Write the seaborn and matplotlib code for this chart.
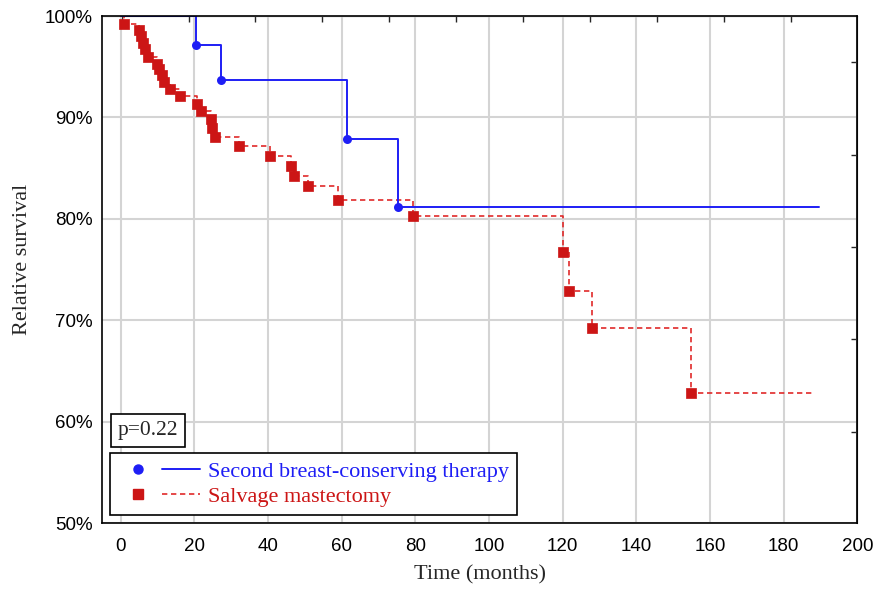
import matplotlib.pyplot as plt
import numpy as np
import pandas as pd
import seaborn as sns
from matplotlib.lines import Line2D
from matplotlib.legend_handler import HandlerTuple

# Kaplan-Meier estimates (months, % surviving)
bct_times = [20.5, 27.4, 61.4, 75.2]
bct_surv = [97.1, 93.7, 87.9, 81.2]
bct_last = 189.5  # end of follow-up

sm_times = [1.0, 5.0, 5.5, 6.2, 6.6, 7.4, 9.8, 10.3, 11.2, 11.8, 13.5, 16.2,
            20.7, 21.8, 24.5, 24.9, 25.6, 32.2, 40.5, 46.4, 47.0, 50.9, 58.9,
            79.5, 120.2, 121.8, 128.1, 154.9]
sm_surv = [99.2, 98.6, 98.0, 97.3, 96.7, 96.0, 95.3, 94.8, 94.2, 93.5, 92.8, 92.1,
           91.3, 90.6, 89.8, 89.0, 88.1, 87.2, 86.2, 85.2, 84.2, 83.2, 81.9,
           80.3, 76.7, 72.9, 69.2, 62.8]
sm_last = 188.5

group_labels = ['Second breast-conserving therapy', 'Salvage mastectomy']
p_text = 'p=0.22'

x_ticks = [0, 20, 40, 60, 80, 100, 120, 140, 160, 180, 200]
y_ticks = [50, 60, 70, 80, 90, 100]

blue = '#1e1ef5'
red_mark = '#cc1515'
red_line = '#e02a2a'

sns.set_style('white')
plt.rcParams['font.family'] = ['Liberation Sans', 'DejaVu Sans']


def step_frame(times, surv, last):
    # full step curve: start at 100% at t=0, hold the last value to end of follow-up
    return pd.DataFrame({'time': [0] + times + [last],
                         'surv': [100] + surv + [surv[-1]]})


bct_curve = step_frame(bct_times, bct_surv, bct_last)
sm_curve = step_frame(sm_times, sm_surv, sm_last)
bct_events = pd.DataFrame({'time': bct_times, 'surv': bct_surv})
sm_events = pd.DataFrame({'time': sm_times, 'surv': sm_surv})

fig = plt.figure(figsize=(8.73, 5.93), dpi=100)
ax = fig.add_axes([0.117, 0.118, 0.865, 0.855])

# survival curves
sns.lineplot(data=sm_curve, x='time', y='surv', drawstyle='steps-post',
             estimator=None, sort=False, color=red_line, lw=1.2, ax=ax)
ax.lines[-1].set_dashes([3.2, 2.2])
sns.lineplot(data=bct_curve, x='time', y='surv', drawstyle='steps-post',
             estimator=None, sort=False, color=blue, lw=1.4, ax=ax)

# event markers
sns.scatterplot(data=sm_events, x='time', y='surv', marker='s', s=50,
                color=red_mark, edgecolor=red_mark, linewidth=0.5, zorder=4, ax=ax)
sns.scatterplot(data=bct_events, x='time', y='surv', marker='o', s=42,
                color=blue, edgecolor=blue, linewidth=0, zorder=5, ax=ax)

ax.set_xlim(-5, 200)
ax.set_ylim(50, 100)
ax.set_xticks(x_ticks)
ax.set_yticks(y_ticks)
ax.set_yticklabels([f'{v}%' for v in y_ticks])
ax.tick_params(axis='both', direction='in', length=4, width=1, labelsize=13.5,
               colors='black', pad=7)
ax.tick_params(axis='x', pad=11)
ax.grid(True, color='#d4d4d4', lw=1.5)
ax.set_axisbelow(True)
for sp in ax.spines.values():
    sp.set_color('black')
    sp.set_linewidth(1.2)

# the extra tick marks on top and right edges of the original
top = ax.secondary_xaxis('top')
top.set_xticks([0.3, 18.5, 36.6, 54.8, 73.0, 91.1, 109.3, 127.5, 145.6, 163.8, 182.0])
top.tick_params(direction='in', length=4, width=1, labeltop=False)
right = ax.secondary_yaxis('right')
right.set_yticks([59.0, 68.1, 77.2, 86.3, 95.5])
right.tick_params(direction='in', length=4, width=1, labelright=False)

serif = ['Liberation Serif', 'DejaVu Serif']
ax.set_xlabel('Time (months)', family=serif, fontsize=16)
ax.set_ylabel('Relative survival', family=serif, fontsize=16)
ax.xaxis.set_label_coords(0.5, -0.084)
ax.yaxis.set_label_coords(-0.093, 0.52)

# p-value box
ax.text(0.021, 0.163, p_text, transform=ax.transAxes, ha='left', va='bottom',
        family=serif, fontsize=15.5, zorder=6,
        bbox=dict(boxstyle='square,pad=0.32', fc='white', ec='black', lw=1.2))

# legend: marker, then line sample, then coloured label
h_bct = (Line2D([], [], marker='o', ls='none', color=blue, markersize=6.5),
         Line2D([], [], color=blue, lw=1.4))
h_sm = (Line2D([], [], marker='s', ls='none', color=red_mark, markersize=6.5),
        Line2D([], [], color=red_line, lw=1.2, dashes=[3.2, 2.2]))
leg = ax.legend([h_bct, h_sm], group_labels,
                handler_map={tuple: HandlerTuple(ndivide=None, pad=0.2)},
                loc='lower left', bbox_to_anchor=(0.011, 0.016), borderaxespad=0,
                prop={'family': serif, 'size': 16}, handlelength=3.7,
                handletextpad=0.35, labelspacing=0.22, borderpad=0.35,
                fancybox=False, edgecolor='black', framealpha=1)
leg.get_frame().set_linewidth(1.2)
leg.set_zorder(6)
for txt, c in zip(leg.get_texts(), [blue, red_mark]):
    txt.set_color(c)

plt.savefig('out.png', dpi=100)
